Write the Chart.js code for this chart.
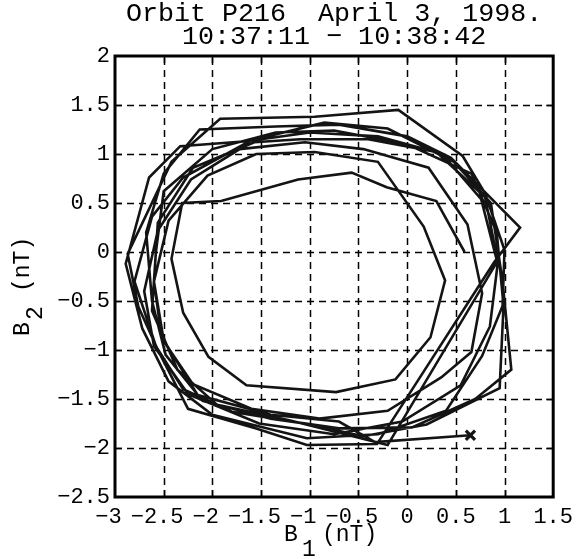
<!DOCTYPE html>
<html>
<head>
<meta charset="utf-8">
<script src="https://cdn.jsdelivr.net/npm/chart.js@4"></script>
<style>
  html, body { margin: 0; padding: 0; background: #ffffff; }
  canvas { display: block; }
</style>
</head>
<body>
<canvas id="c" width="580" height="559"></canvas>
<script>
// ---- data ----
const titleLines = ['Orbit P216  April 3, 1998.', '10:37:11 \u2212 10:38:42'];
const xTicks = [-3, -2.5, -2, -1.5, -1, -0.5, 0, 0.5, 1, 1.5];
const yTicks = [-2.5, -2, -1.5, -1, -0.5, 0, 0.5, 1, 1.5, 2];
const b1 = [
  0.59, 0.30, -0.21, -0.57, -1.12, -1.91, -2.31, -2.42, -2.30, -2.04, -1.65, -0.73, -0.12, 0.24, 0.39, 0.17,
  -0.30, -0.95, -1.55, -2.05, -2.45, -2.60, -2.52, -2.20, -1.60, -0.90, -0.20, 0.35, 0.66, 0.77, 0.62,
  0.22, -0.45, -1.05, -1.72, -2.22, -2.56, -2.70, -2.60, -2.25, -1.52, -0.75, -0.05, 0.55, 0.85, 0.93, 0.76,
  0.36, -0.30, -1.00, -1.65, -2.33, -2.65, -2.89, -2.72, -2.45, -2.00, -1.03, -0.30, 0.40, 0.77, 0.98, 1.00, 0.80,
  0.57, -0.09, -0.95, -1.92, -2.42, -2.87, -2.76, -2.55, -2.25, -1.55, -1.03, -0.31, 0.89, 1.16, 0.45,
  0.00, -0.70, -1.35, -2.13, -2.50, -2.68, -2.62, -2.48, -2.10, -1.40, -0.70, 0.05, 0.70, 1.07, 0.98, 0.86, 0.48,
  -0.20, -0.85, -1.60, -2.30, -2.62, -2.80, -2.58, -2.30, -1.80, -1.00, -0.45, 0.20, 0.95, 0.99, 0.92, 0.66,
  0.00, -0.75, -1.35, -2.00, -2.50, -2.58, -2.62, -2.36, -1.95, -1.20, -0.20, 0.93, 0.80,
  0.30, -0.40, -1.10, -1.57, -2.20, -2.56, -2.60, -2.50, -2.15, -1.40, -0.70, -0.33, 0.65
];
const b2 = [
  0.00, 0.52, 0.66, 0.81, 0.74, 0.52, 0.50, -0.07, -0.62, -1.07, -1.36, -1.43, -1.30, -0.87, -0.29, 0.26,
  0.92, 1.02, 1.00, 0.78, 0.32, -0.30, -0.88, -1.35, -1.60, -1.70, -1.62, -1.28, -1.02, -0.42, 0.28,
  0.86, 1.05, 1.12, 1.05, 0.74, 0.22, -0.40, -0.96, -1.45, -1.75, -1.86, -1.73, -1.36, -0.76, -0.12, 0.54,
  1.00, 1.18, 1.22, 1.13, 1.08, 0.76, -0.12, -0.78, -1.32, -1.66, -1.90, -1.86, -1.62, -1.06, -0.55, 0.02, 0.60,
  0.98, 1.45, 1.38, 1.36, 0.92, -0.02, -0.56, -1.02, -1.60, -1.80, -1.97, -1.96, -0.11, 0.25, 0.96,
  1.18, 1.30, 1.28, 1.25, 0.80, 0.20, -0.50, -1.05, -1.52, -1.70, -1.80, -1.79, -1.50, -1.20, -0.30, 0.50, 0.92,
  1.26, 1.32, 1.14, 0.76, 0.36, -0.30, -0.96, -1.40, -1.63, -1.76, -1.88, -1.76, -1.39, -0.55, 0.20, 0.80,
  1.10, 1.24, 1.22, 1.05, 0.62, 0.00, -0.60, -1.20, -1.56, -1.72, -1.97, -0.09, 0.56,
  1.02, 1.15, 1.15, 1.12, 0.86, 0.30, -0.30, -0.90, -1.46, -1.66, -1.73, -1.94, -1.87
];
const markerB1 = [0.65];
const markerB2 = [-1.87];

// ---- helpers ----
const FONT = "'Liberation Mono', 'Courier New', monospace";
const pts = b1.map((v, i) => ({ x: v, y: b2[i] }));
const markerPts = markerB1.map((v, i) => ({ x: v, y: markerB2[i] }));
function fmt(v) { return v < 0 ? '\u2212' + String(Math.abs(v)) : String(v); }

const frame = {
  id: 'frame',
  beforeDatasetsDraw(chart) {
    const { ctx, chartArea: a, scales: { x, y } } = chart;
    ctx.save();
    ctx.strokeStyle = '#000';
    ctx.lineWidth = 1.5;
    ctx.setLineDash([7, 5]);
    xTicks.slice(1, -1).forEach(v => {
      const p = Math.round(x.getPixelForValue(v)) + 0.5;
      ctx.beginPath(); ctx.moveTo(p, a.bottom); ctx.lineTo(p, a.top); ctx.stroke();
    });
    yTicks.slice(1, -1).forEach(v => {
      const p = Math.round(y.getPixelForValue(v)) + 0.5;
      ctx.beginPath(); ctx.moveTo(a.left, p); ctx.lineTo(a.right, p); ctx.stroke();
    });
    ctx.restore();
  },
  afterDatasetsDraw(chart) {
    const { ctx, chartArea: a, scales: { x, y } } = chart;
    ctx.save();
    ctx.strokeStyle = '#000';
    ctx.setLineDash([]);
    ctx.lineWidth = 1.5;
    const L = 7;
    xTicks.slice(1, -1).forEach(v => {
      const p = Math.round(x.getPixelForValue(v)) + 0.5;
      ctx.beginPath();
      ctx.moveTo(p, a.bottom); ctx.lineTo(p, a.bottom - L);
      ctx.moveTo(p, a.top); ctx.lineTo(p, a.top + L);
      ctx.stroke();
    });
    yTicks.slice(1, -1).forEach(v => {
      const p = Math.round(y.getPixelForValue(v)) + 0.5;
      ctx.beginPath();
      ctx.moveTo(a.left, p); ctx.lineTo(a.left + L, p);
      ctx.moveTo(a.right, p); ctx.lineTo(a.right - L, p);
      ctx.stroke();
    });
    ctx.lineWidth = 3;
    ctx.strokeRect(a.left, a.top, a.right - a.left, a.bottom - a.top);

    // axis titles with lowered subscripts
    ctx.fillStyle = '#000';
    ctx.font = '23px ' + FONT;
    ctx.textAlign = 'left';
    ctx.textBaseline = 'alphabetic';
    ctx.fillText('B', 284, 541);
    ctx.fillText('1', 302, 556);
    ctx.fillText('(nT)', 322, 541);

    ctx.translate(29, 336);
    ctx.rotate(-Math.PI / 2);
    ctx.fillText('B', 0, 0);
    ctx.fillText('2', 16, 13);
    ctx.fillText('(nT)', 44, 0);
    ctx.restore();
  }
};

new Chart(document.getElementById('c'), {
  type: 'scatter',
  data: {
    datasets: [
      {
        data: pts,
        showLine: true,
        borderColor: '#141414',
        borderWidth: 2.6,
        pointRadius: 0,
        tension: 0,
        fill: false
      },
      {
        data: markerPts,
        showLine: false,
        pointStyle: 'crossRot',
        pointRadius: 6.5,
        borderColor: '#141414',
        borderWidth: 3.2
      }
    ]
  },
  options: {
    responsive: false,
    devicePixelRatio: 1,
    animation: false,
    layout: { padding: { left: 0, right: 23, top: 0, bottom: 0 } },
    plugins: {
      legend: { display: false },
      tooltip: { enabled: false },
      title: {
        display: true,
        fullSize: false,
        text: titleLines,
        color: '#000',
        font: { family: FONT, size: 26.7, weight: 'normal', lineHeight: '23px' },
        padding: { top: 2, bottom: 8 }
      }
    },
    scales: {
      x: {
        type: 'linear',
        min: -3, max: 1.5,
        afterBuildTicks: s => { s.ticks = xTicks.map(v => ({ value: v })); },
        afterFit: s => { s.height = 62; },
        grid: { display: false, drawTicks: false },
        border: { display: false },
        ticks: {
          color: '#000',
          padding: 7,
          maxRotation: 0,
          autoSkip: false,
          font: { family: FONT, size: 22 },
          callback: v => (v < 0 ? fmt(v) + ' ' : fmt(v))
        }
      },
      y: {
        type: 'linear',
        min: -2.5, max: 2,
        afterBuildTicks: s => { s.ticks = yTicks.map(v => ({ value: v })); },
        afterFit: s => { s.width = 115; },
        grid: { display: false, drawTicks: false },
        border: { display: false },
        ticks: {
          color: '#000',
          padding: 5,
          autoSkip: false,
          font: { family: FONT, size: 22 },
          callback: v => fmt(v)
        }
      }
    }
  },
  plugins: [frame]
});
</script>
</body>
</html>
